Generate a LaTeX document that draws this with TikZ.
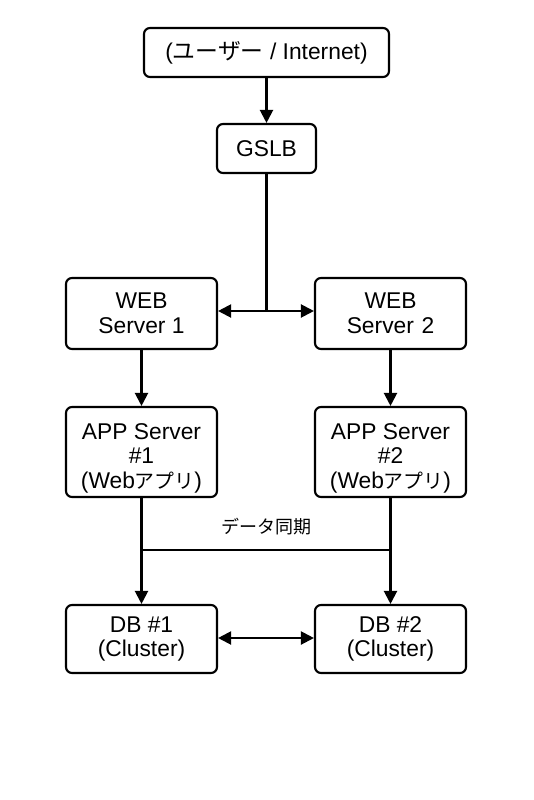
\documentclass[tikz,border=0pt]{standalone}
\usepackage{fontspec}
\setmainfont{Liberation Sans}
\newfontfamily\jp{Noto Sans CJK JP}
\newfontfamily\jpn{Noto Sans CJK JP}[Scale=0.87]
\usetikzlibrary{arrows.meta}
\begin{document}
\begin{tikzpicture}[x=1pt,y=-1pt,
  box/.style={draw,line width=2.1pt,rounded corners=6pt,align=center,
    font=\fontsize{22.8}{24.5}\selectfont,inner sep=0pt},
  conn/.style={line width=2.1pt},
  arr/.style={conn,-{Triangle[length=13pt,width=13pt]}},
  darr/.style={conn,{Triangle[length=13pt,width=13pt]}-{Triangle[length=13pt,width=13pt]}}]
\useasboundingbox (0,0) rectangle (533,800);
\node[box,minimum width=245pt,minimum height=49pt] (user) at (266.5,52.5) {({\jp ユーザー} / Internet)};
\node[box,minimum width=99pt,minimum height=49pt] (gslb) at (266.5,148.5) {GSLB};
\node[box,minimum width=151pt,minimum height=71pt] (web1) at (141.5,313.5) {WEB\\Server 1};
\node[box,minimum width=151pt,minimum height=71pt] (web2) at (390.5,313.5) {WEB\\Server\,\,2};
\node[box,minimum width=151pt,minimum height=90pt] (app1) at (141.5,452) {\rule{0pt}{28pt}APP Server\\\#1\\({Web\jpn アプリ})};
\node[box,minimum width=151pt,minimum height=90pt] (app2) at (390.5,452) {\rule{0pt}{28pt}APP Server\\\#2\\({Web\jpn アプリ})};
\node[box,minimum width=151pt,minimum height=68pt] (db1) at (141.5,639) {DB \#1\\(Cluster)};
\node[box,minimum width=151pt,minimum height=68pt] (db2) at (390.5,639) {DB \#2\\(Cluster)};
\coordinate (split) at (266.5,311);
\coordinate (sync) at (266.5,550);
\node[font=\jp\fontsize{18}{20}\selectfont] (synclabel) at (266.5,527) {データ同期};
\draw[arr] (user) -- (gslb);
\draw[conn] (gslb.south) -- (split);
\draw[darr] (web1.east |- split) -- (web2.west |- split);
\draw[arr] (web1) -- (app1);
\draw[arr] (web2) -- (app2);
\draw[arr] (app1) -- (db1);
\draw[arr] (app2) -- (db2);
\draw[conn] (app1.south |- sync) -- (app2.south |- sync);
\draw[darr] (db1.east |- 0,638) -- (db2.west |- 0,638);
\end{tikzpicture}
\end{document}
